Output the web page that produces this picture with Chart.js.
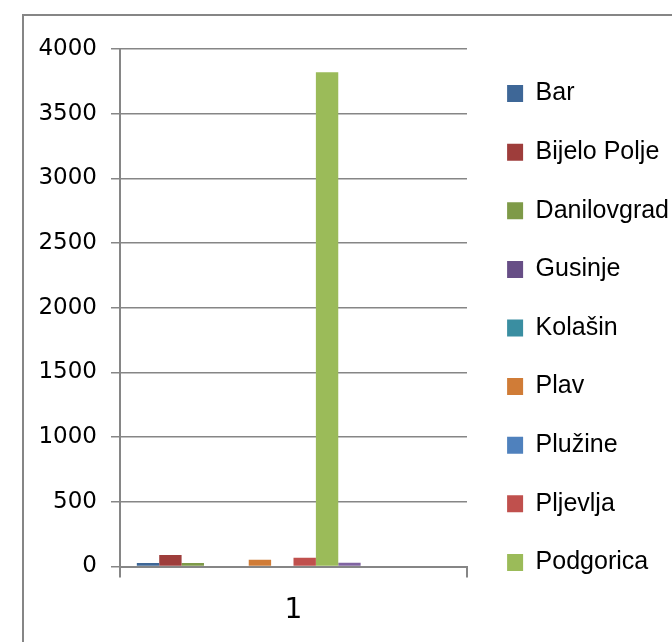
<!DOCTYPE html>
<html>
<head>
<meta charset="utf-8">
<script src="https://cdn.jsdelivr.net/npm/chart.js@4/dist/chart.umd.min.js"></script>
<style>
  html, body { margin: 0; padding: 0; background: #ffffff; }
  body { width: 672px; height: 642px; position: relative; overflow: hidden; }
  #frame { position: absolute; left: 22px; top: 14px; width: 700px; height: 700px; border: 2px solid #868686; box-sizing: border-box; }
  #wrap { position: absolute; left: 0; top: 0; width: 672px; height: 642px; }
</style>
</head>
<body>
<div id="frame"></div>
<div id="wrap"><canvas id="c" width="672" height="642"></canvas></div>
<script>
const categories = ['1'];
const seriesNames = ['Bar', 'Bijelo Polje', 'Danilovgrad', 'Gusinje', 'Kolašin', 'Plav', 'Plužine', 'Pljevlja', 'Podgorica', 'Rožaje', 'Šavnik', 'Tivat', 'Ulcinj', 'Žabljak'];
const seriesValues = [27, 89, 27, 0, 0, 53, 0, 68, 3820, 29, 0, 0, 0, 0];
const seriesColors = ['#3E6797', '#9E3D3B', '#7E9A48', '#674E86', '#3A8EA1', '#D07C37', '#4F81BD', '#C0504D', '#9BBB59', '#8064A2', '#4BACC6', '#F79646', '#7D9BCF', '#CF7B79'];
const legendCount = 9;
const yMin = 0, yMax = 4000, yStep = 500;

const datasets = seriesNames.map((name, i) => ({
  label: name,
  data: [seriesValues[i]],
  backgroundColor: seriesColors[i],
  borderWidth: 0,
  categoryPercentage: 0.903,
  barPercentage: 1.0
}));

const legendShift = {
  id: 'legendShift',
  afterLayout(chart) {
    const lg = chart.legend;
    if (lg) {
      lg.left += 6.5;
      lg.right = chart.width + 40;
      lg.width = lg.right - lg.left;
      lg.top -= 1.5; lg.bottom -= 1.5;
    }
  }
};

new Chart(document.getElementById('c'), {
  type: 'bar',
  data: { labels: categories, datasets },
  plugins: [legendShift],
  options: {
    responsive: false,
    animation: false,
    devicePixelRatio: 1,
    layout: { padding: { left: 0, right: 49.33, top: 49, bottom: 0 } },
    plugins: {
      tooltip: { enabled: false },
      legend: {
        position: 'right',
        align: 'start',
        labels: {
          filter: (item) => item.datasetIndex < legendCount,
          boxWidth: 16,
          boxHeight: 17,
          padding: 33.6,
          color: '#000000',
          font: { family: '"Liberation Sans", Arial, sans-serif', size: 25 }
        }
      }
    },
    scales: {
      x: {
        offset: true,
        grid: { offset: true, drawOnChartArea: false, drawTicks: true, tickLength: 11, color: '#868686', lineWidth: 2 },
        border: { display: true, color: '#868686', width: 2 },
        ticks: { color: '#000000', padding: 16, font: { family: '"DejaVu Sans", sans-serif', size: 28 } },
        afterFit(scale) { scale.height = 75.5; }
      },
      y: {
        min: yMin,
        max: yMax,
        ticks: {
          stepSize: yStep, color: '#000000', padding: 14,
          font: { family: '"DejaVu Sans", sans-serif', size: 23 },
          callback: (v) => String(v)
        },
        grid: { color: '#868686', lineWidth: 1.5, tickLength: 9, drawTicks: true },
        border: { display: true, color: '#868686', width: 2 },
        afterFit(scale) { scale.width = 120; }
      }
    }
  }
});
</script>
</body>
</html>
